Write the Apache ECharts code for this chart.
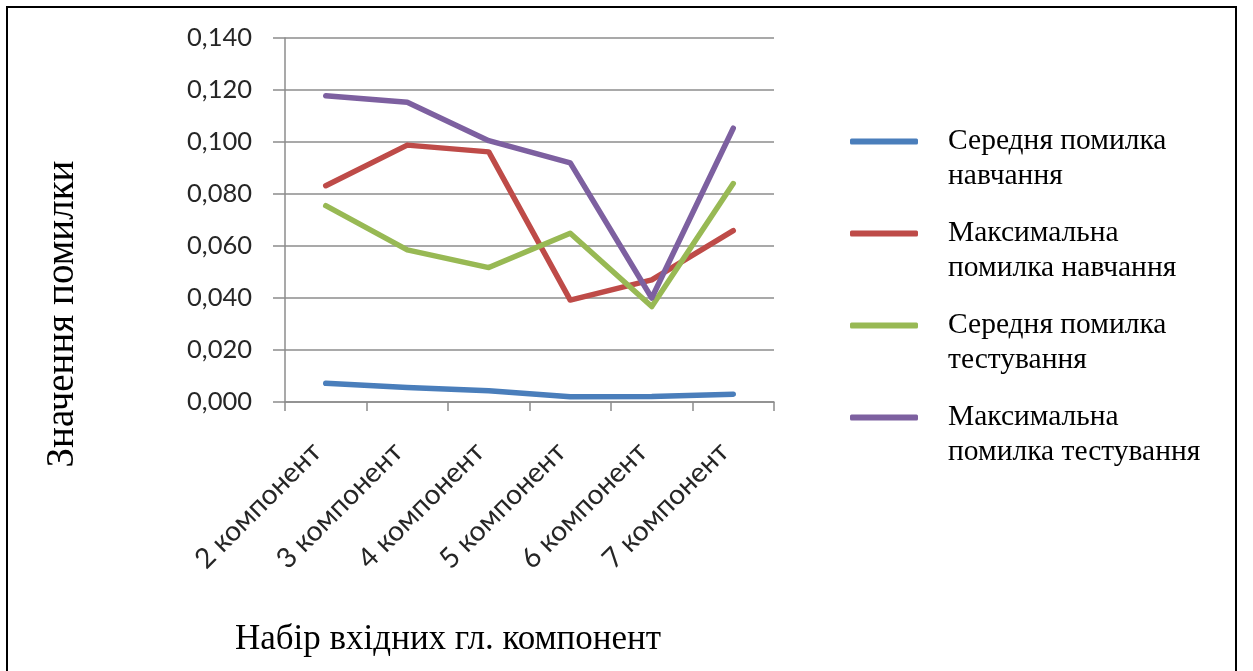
<!DOCTYPE html>
<html>
<head>
<meta charset="utf-8">
<script src="https://cdn.jsdelivr.net/npm/echarts@6/dist/echarts.min.js"></script>
<style>
  html, body { margin: 0; padding: 0; background: #ffffff; }
  #chart { width: 1253px; height: 671px; }
</style>
</head>
<body>
<div id="chart"></div>
<script>
// Categories: number of input principal components
const categories = ['2 компонент', '3 компонент', '4 компонент', '5 компонент', '6 компонент', '7 компонент'];

// Error values per component set
const meanTrainError = [0.0072, 0.0056, 0.0043, 0.0020, 0.0021, 0.0030];
const maxTrainError  = [0.0832, 0.0988, 0.0962, 0.0392, 0.0470, 0.0659];
const meanTestError  = [0.0755, 0.0585, 0.0517, 0.0649, 0.0367, 0.0840];
const maxTestError   = [0.1178, 0.1153, 0.1005, 0.0920, 0.0400, 0.1053];

// Series names shown in the legend
const seriesNames = [
  'Середня помилка\nнавчання',
  'Максимальна\nпомилка навчання',
  'Середня помилка\nтестування',
  'Максимальна\nпомилка тестування'
];
const seriesColors = ['#4a7ebb', '#be4b48', '#98b954', '#7d60a0'];

// Value axis range and step
const yMin = 0;
const yMax = 0.14;
const yStep = 0.02;

const xTitle = 'Набір вхідних гл. компонент';
const yTitle = 'Значення помилки';

const seriesData = [meanTrainError, maxTrainError, meanTestError, maxTestError];

const gridColor = '#8c8c8c';
const serif = '"Liberation Serif", "Times New Roman", serif';
const sans = 'Lato, "Open Sans", sans-serif';

const chart = echarts.init(document.getElementById('chart'), null, { renderer: 'canvas' });

chart.setOption({
  animation: false,
  backgroundColor: '#ffffff',
  title: {
    text: xTitle,
    left: 230,
    top: 617,
    textStyle: { fontFamily: serif, fontSize: 35, fontWeight: 'normal', color: '#000000' }
  },
  graphic: [
    {
      type: 'rect',
      shape: { x: 7, y: 7, width: 1229, height: 680 },
      style: { fill: 'none', stroke: '#000000', lineWidth: 2 },
      silent: true
    },
    {
      type: 'text',
      x: 63,
      y: 314,
      rotation: Math.PI / 2,
      style: {
        text: yTitle,
        fontFamily: serif,
        fontSize: 39,
        fill: '#000000',
        align: 'center',
        verticalAlign: 'middle'
      },
      silent: true
    }
  ],
  legend: {
    orient: 'vertical',
    left: 845,
    top: 84,
    itemGap: -13,
    itemWidth: 68,
    itemHeight: 6,
    icon: 'roundRect',
    selectedMode: false,
    data: seriesNames.map(function (n) { return { name: n, icon: 'roundRect' }; }),
    // leading blank line keeps the first text line level with the swatch
    formatter: function (name) { return '\n' + name; },
    textStyle: {
      fontFamily: serif,
      fontSize: 29.5,
      lineHeight: 35,
      color: '#000000',
      padding: [0, 0, 0, 25]
    }
  },
  grid: {
    left: 285,
    right: 479,
    top: 38,
    bottom: 269,
    containLabel: false
  },
  xAxis: {
    type: 'category',
    data: categories,
    boundaryGap: true,
    axisLine: { show: true, lineStyle: { color: gridColor, width: 1.5 } },
    axisTick: { show: true, length: 9, lineStyle: { color: gridColor, width: 1.5 } },
    axisLabel: {
      rotate: 45,
      interval: 0,
      margin: 36,
      padding: [0, 13, 0, 0],
      fontFamily: sans,
      fontSize: 28,
      color: '#262626'
    },
    splitLine: { show: false }
  },
  yAxis: {
    type: 'value',
    min: yMin,
    max: yMax,
    interval: yStep,
    axisLine: { show: true, lineStyle: { color: gridColor, width: 1.5 } },
    axisTick: { show: true, length: 12, lineStyle: { color: gridColor, width: 1.5 } },
    axisLabel: {
      margin: 33,
      fontFamily: sans,
      fontSize: 25.5,
      color: '#262626',
      formatter: function (v) { return v.toFixed(3).replace('.', ','); }
    },
    splitLine: { show: true, lineStyle: { color: gridColor, width: 1.5 } }
  },
  series: seriesData.map(function (d, i) {
    return {
      name: seriesNames[i],
      type: 'line',
      data: d,
      showSymbol: false,
      symbol: 'none',
      smooth: false,
      color: seriesColors[i],
      lineStyle: { width: 5.5, color: seriesColors[i], cap: 'round', join: 'round' }
    };
  })
});
</script>
</body>
</html>
